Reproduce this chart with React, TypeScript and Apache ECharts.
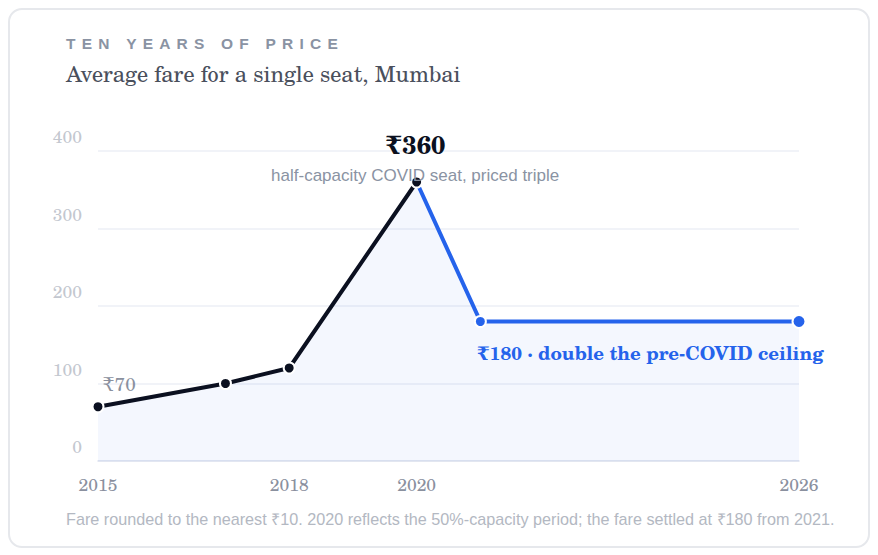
import React, { useEffect, useRef } from "react";
import * as echarts from "echarts";

const years = [2015, 2017, 2018, 2020, 2021, 2026];
const fares = [70, 100, 120, 360, 180, 180];
const xTickYears = [2015, 2018, 2020, 2026];
const yTicks = [0, 100, 200, 300, 400];

const titleText = "TEN YEARS OF PRICE";
const subtitleText = "Average fare for a single seat, Mumbai";
const footerText =
  "Fare rounded to the nearest ₹10. 2020 reflects the 50%-capacity period; the fare settled at ₹180 from 2021.";
const peakValueLabel = "₹360";
const peakNote = "half-capacity COVID seat, priced triple";
const startLabel = "₹70";
const plateauLabel = "₹180 · double the pre-COVID ceiling";

const SERIF = "'C059', 'Century Schoolbook L', 'TeX Gyre Schola', 'New Century Schoolbook', 'DejaVu Serif', serif";
const SANS = "'Liberation Sans', Arial, sans-serif";
const INK = "#0b1020";
const BLUE = "#2563eb";
const AREA = "rgba(37,99,235,0.075)";

// visual letter spacing for the kicker title (thin spaces)
const spaced = (s: string) =>
  s
    .split(" ")
    .map((w) => w.split("").join("\u2009\u2009"))
    .join("\u2009\u2009 \u2009\u2009");

export default function App() {
  const ref = useRef<HTMLDivElement>(null);
  useEffect(() => {
    if (!ref.current) return;
    const chart = echarts.init(ref.current, undefined, { renderer: "svg" });
    const splitIdx = years.indexOf(2020);
    const pts = years.map((y, i) => [y, fares[i]]);
    const blackData = pts.slice(0, splitIdx + 1).map((p, i) => {
      const item: any = { value: p };
      if (i === 0) {
        item.label = {
          show: true,
          formatter: startLabel,
          position: [11, -17],
          align: "left",
          verticalAlign: "middle",
          fontFamily: SERIF,
          fontSize: 19,
          color: "#8a909e",
        };
      }
      if (i === splitIdx) {
        item.label = {
          show: true,
          position: [5, 12],
          align: "center",
          verticalAlign: "bottom",
          formatter: `{a|${peakValueLabel}}\n{b|${peakNote}}`,
          rich: {
            a: { fontFamily: SERIF, fontWeight: "bold", fontSize: 25, color: INK, lineHeight: 40, align: "center" },
            b: { fontFamily: SANS, fontSize: 17, color: "#8a93a3", lineHeight: 24, align: "center" },
          },
        };
      }
      return item;
    });
    const blueData = pts.slice(splitIdx).map((p, i, arr) => {
      const item: any = { value: p };
      if (i === 0) {
        item.symbolSize = 0;
        item.itemStyle = { opacity: 0 };
      }
      if (i === 1) {
        item.label = {
          show: true,
          formatter: plateauLabel,
          position: [3, 37],
          align: "left",
          verticalAlign: "middle",
          fontFamily: SERIF,
          fontWeight: "bold",
          fontSize: 18.7,
          color: BLUE,
        };
      }
      if (i === arr.length - 1) {
        item.symbolSize = 13;
      }
      return item;
    });

    chart.setOption({
      animation: false,
      title: [
        {
          text: spaced(titleText),
          left: 56,
          top: 25,
          padding: 0,
          textStyle: { fontFamily: SANS, fontWeight: "bold", fontSize: 15.5, color: "#8a93a3" },
        },
        {
          text: subtitleText,
          left: 56,
          top: 52,
          padding: 0,
          textStyle: { fontFamily: SERIF, fontWeight: "normal", fontSize: 22.2, color: "#4a4f5c" },
        },
      ],
      graphic: [
        {
          type: "text",
          left: 56,
          top: 501,
          style: { text: footerText, fontFamily: SANS, fontSize: 16.2, fill: "#b3b8c2" },
        },
      ],
      grid: { left: 88, right: 69, top: 141, bottom: 85 },
      xAxis: {
        type: "value",
        min: 2015,
        max: 2026,
        axisLine: { show: true, lineStyle: { color: "#dde2ee", width: 1.5 } },
        axisTick: { show: false },
        splitLine: { show: false },
        axisLabel: {
          customValues: xTickYears,
          formatter: (v: number) => String(v),
          fontFamily: SERIF,
          fontSize: 17.5,
          color: "#8a909e",
          margin: 14,
        },
      },
      yAxis: {
        type: "value",
        min: 0,
        max: 400,
        interval: 100,
        axisLine: { show: false },
        axisTick: { show: false },
        splitLine: { lineStyle: { color: "#eceff6", width: 1.5 } },
        axisLabel: {
          customValues: yTicks,
          fontFamily: SERIF,
          fontSize: 17.5,
          color: "#c3c7cf",
          margin: 16,
          verticalAlign: "bottom",
          padding: [0, 0, 6, 0],
        },
      },
      series: [
        {
          type: "line",
          data: blackData,
          symbol: "circle",
          symbolSize: 11,
          showAllSymbol: true,
          lineStyle: { color: INK, width: 4 },
          itemStyle: { color: INK, borderColor: "#fff", borderWidth: 2 },
          areaStyle: { color: AREA },
          z: 3,
        },
        {
          type: "line",
          data: blueData,
          symbol: "circle",
          symbolSize: 11,
          showAllSymbol: true,
          lineStyle: { color: BLUE, width: 4 },
          itemStyle: { color: BLUE, borderColor: "#fff", borderWidth: 2 },
          areaStyle: { color: AREA },
          z: 2,
        },
      ],
    });
    return () => chart.dispose();
  }, []);

  return (
    <div
      style={{
        position: "relative",
        width: 862,
        height: 540,
        border: "2px solid #e6e8ec",
        borderRadius: 14,
        boxSizing: "border-box",
        background: "#fff",
      }}
    >
      <div ref={ref} style={{ position: "absolute", left: 0, top: 0, width: 858, height: 536 }} />
    </div>
  );
}
